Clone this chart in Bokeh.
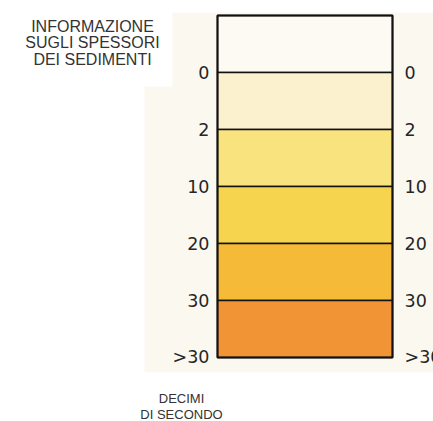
from bokeh.plotting import figure
from bokeh.models import Range1d, ColumnDataSource, Label
from bokeh.core.properties import value
from bokeh.embed import file_html
from bokeh.resources import INLINE

# ---- data ----
tick_labels = ["0", "2", "10", "20", "30", ">30"]
boundary_pos = [1, 2, 3, 4, 5, 6]            # band boundaries (line index)
band_top = [0, 1, 2, 3, 4, 5]
band_bottom = [1, 2, 3, 4, 5, 6]
band_colors = ["#fcfaf2", "#fbf1cf", "#f9e37f", "#f7d44e", "#f4ba38", "#f19436"]
title_lines = ["INFORMAZIONE", "SUGLI SPESSORI", "DEI SEDIMENTI"]
footer_lines = ["DECIMI", "DI SECONDO"]

W, H = 433, 421
p = figure(width=W, height=H, output_backend="svg", toolbar_location=None,
           x_range=Range1d(0, W), y_range=Range1d(7.123, -0.263),
           min_border=0, outline_line_color=None, background_fill_color="white",
           border_fill_color="white")
p.axis.visible = False
p.grid.visible = False

# faint paper tone of the scanned page
p.quad(left=[172], right=[W], top=[-0.05], bottom=[1.3], fill_color="#fbf8f0",
       line_color=None)
p.quad(left=[144], right=[W], top=[1.25], bottom=[6.26], fill_color="#fbf8f0",
       line_color=None)

src = ColumnDataSource(dict(top=band_top, bottom=band_bottom, color=band_colors))
p.quad(left=217, right=392, top="top", bottom="bottom", fill_color="color",
       line_color="#111111", line_width=1.5, source=src)
# outer frame
p.quad(left=[217], right=[392], top=[band_top[0]], bottom=[band_bottom[-1]],
       fill_color=None, line_color="#111111", line_width=2)

lab = ColumnDataSource(dict(y=boundary_pos, t=tick_labels))
p.text(x=209, y="y", text="t", source=lab, text_align="right",
       text_baseline="middle", text_font=value("DejaVu Sans"),
       text_font_size="17.5px", text_color="#262626")
p.text(x=404, y="y", text="t", source=lab, text_align="left",
       text_baseline="middle", text_font=value("DejaVu Sans"),
       text_font_size="17.5px", text_color="#262626")

for i, t in enumerate(title_lines):
    p.add_layout(Label(x=92, y=H - 25.5 - 16.8 * i, x_units="screen", y_units="screen",
                       text=t, text_align="center", text_baseline="middle",
                       text_font="Liberation Sans", text_font_size="16px",
                       text_color="#333333"))
for i, t in enumerate(footer_lines):
    p.add_layout(Label(x=181, y=H - 397.5 - 16.5 * i, x_units="screen", y_units="screen",
                       text=t, text_align="center", text_baseline="middle",
                       text_font="Liberation Sans", text_font_size="13px",
                       text_color="#333333"))

open("out.html", "w").write(file_html(p, INLINE))
